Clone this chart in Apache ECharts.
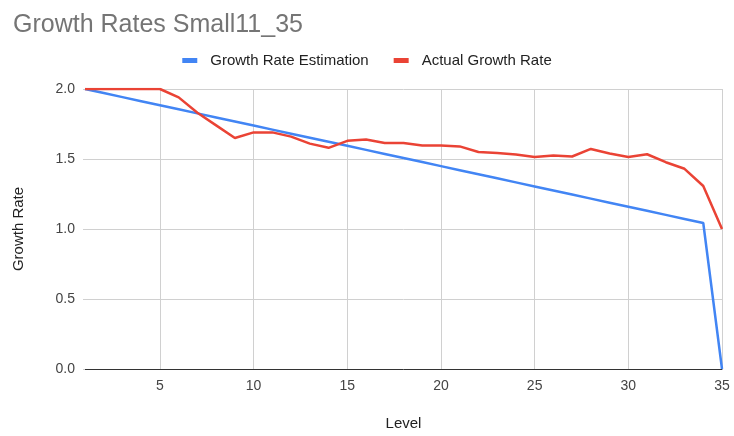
<!DOCTYPE html>
<html>
<head>
<meta charset="utf-8">
<script src="https://cdn.jsdelivr.net/npm/echarts@6/dist/echarts.min.js"></script>
<style>
  html, body { margin: 0; padding: 0; background: #fff; }
  #chart { width: 734px; height: 436px; }
</style>
</head>
<body>
<div id="chart"></div>
<script>
// Levels 1..35
const levels = [1,2,3,4,5,6,7,8,9,10,11,12,13,14,15,16,17,18,19,20,21,22,23,24,25,26,27,28,29,30,31,32,33,34,35];

// Estimated growth rate per level
const estimation = [2.000,1.971,1.942,1.913,1.884,1.855,1.826,1.797,1.768,1.739,1.710,1.681,1.652,1.623,1.594,1.565,1.536,1.507,1.478,1.449,1.420,1.391,1.362,1.333,1.304,1.275,1.246,1.217,1.188,1.159,1.130,1.101,1.072,1.043,0.000];

// Measured growth rate per level
const actual = [2.00,2.00,2.00,2.00,2.00,1.94,1.83,1.74,1.65,1.69,1.69,1.66,1.61,1.58,1.63,1.64,1.615,1.615,1.596,1.596,1.59,1.55,1.543,1.532,1.515,1.525,1.518,1.572,1.539,1.515,1.534,1.477,1.43,1.307,1.00];

const xTicks = [5,10,15,20,25,30,35];

const chart = echarts.init(document.getElementById('chart'));
const font = '"Liberation Sans", Arial, sans-serif';

chart.setOption({
  animation: false,
  title: {
    text: 'Growth Rates Small11_35',
    left: 8, top: 8,
    textStyle: { fontFamily: font, fontSize: 25, fontWeight: 'normal', color: '#757575' }
  },
  legend: {
    top: 48, left: 'center',
    icon: 'rect', itemWidth: 15, itemHeight: 5, itemGap: 25,
    textStyle: { fontFamily: font, fontSize: 15, color: '#222', padding: [0, 0, 0, 8] },
    data: ['Growth Rate Estimation', 'Actual Growth Rate']
  },
  grid: { left: 85, right: 12, top: 89, bottom: 63, containLabel: false },
  xAxis: {
    type: 'value', min: 1, max: 35,
    name: 'Level', nameLocation: 'middle', nameGap: 47,
    nameTextStyle: { fontFamily: font, fontSize: 15, color: '#222' },
    axisLine: { show: true, lineStyle: { color: '#333', width: 1 } },
    axisTick: { show: false, customValues: xTicks },
    axisLabel: { customValues: xTicks, fontFamily: font, fontSize: 14, color: '#444', margin: 10 },
    splitLine: { show: true, lineStyle: { color: '#d0d0d0', width: 1 } }
  },
  yAxis: {
    type: 'value', min: 0, max: 2, interval: 0.5,
    name: 'Growth Rate', nameLocation: 'middle', nameGap: 59,
    nameTextStyle: { fontFamily: font, fontSize: 15, color: '#222' },
    axisLine: { show: false },
    axisTick: { show: true, inside: false, length: 2, lineStyle: { color: '#d0d0d0' } },
    axisLabel: { formatter: v => v.toFixed(1), fontFamily: font, fontSize: 14, color: '#444', margin: 10 },
    splitLine: { show: true, lineStyle: { color: '#d0d0d0', width: 1 } }
  },
  series: [
    {
      name: 'Growth Rate Estimation', type: 'line', showSymbol: false,
      color: '#4285F4', lineStyle: { width: 2.5 },
      data: levels.map((l, i) => [l, estimation[i]])
    },
    {
      name: 'Actual Growth Rate', type: 'line', showSymbol: false,
      color: '#EA4335', lineStyle: { width: 2.5 },
      data: levels.map((l, i) => [l, actual[i]])
    }
  ]
});
</script>
</body>
</html>
